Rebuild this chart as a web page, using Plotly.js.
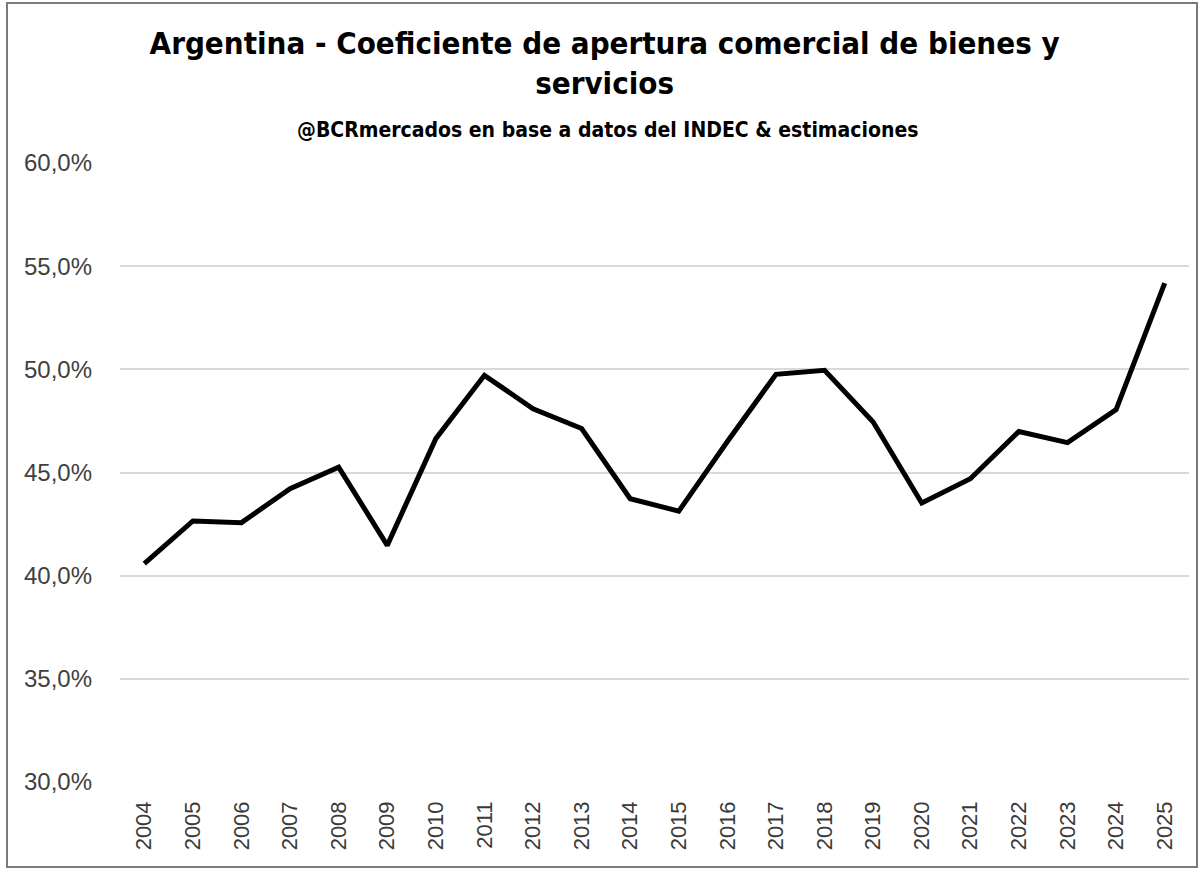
<!DOCTYPE html>
<html>
<head>
<meta charset="utf-8">
<script src="https://cdn.plot.ly/plotly-3.0.1.min.js"></script>
<style>
  html, body { margin: 0; padding: 0; background: #ffffff; }
  #wrap { position: relative; width: 1202px; height: 871px; }
  #chart { position: absolute; left: 0; top: 0; width: 1202px; height: 871px; }
  #frame { position: absolute; left: 6px; top: 2px; width: 1192px; height: 866px;
           border: 2px solid #7a7a7a; box-sizing: border-box; pointer-events: none; }
</style>
</head>
<body>
<div id="wrap">
  <div id="chart"></div>
  <div id="frame"></div>
</div>
<script>
// Data
const years = ["2004","2005","2006","2007","2008","2009","2010","2011","2012","2013","2014",
               "2015","2016","2017","2018","2019","2020","2021","2022","2023","2024","2025"];
const apertura = [0.4058, 0.4265, 0.4257, 0.4422, 0.4526, 0.4147, 0.4664, 0.4971, 0.4809, 0.4713, 0.4373,
                  0.4313, 0.4650, 0.4976, 0.4995, 0.4745, 0.4352, 0.4470, 0.4699, 0.4645, 0.4805, 0.5418];

const titleText = "Argentina - Coeficiente de apertura comercial de bienes y<br>servicios";
const subtitleText = "@BCRmercados en base a datos del INDEC & estimaciones";

const trace = {
  type: "scatter",
  mode: "lines",
  x: years,
  y: apertura,
  line: { color: "#000000", width: 5, shape: "linear" },
  hoverinfo: "x+y"
};

const layout = {
  width: 1202,
  height: 871,
  paper_bgcolor: "#ffffff",
  plot_bgcolor: "#ffffff",
  separators: ",.",
  margin: { l: 120, r: 13, t: 163, b: 89 },
  showlegend: false,
  title: {
    text: titleText,
    xref: "container",
    yref: "container",
    x: 0.503,
    xanchor: "center",
    y: 1 - 54 / 871,
    yanchor: "top",
    font: { family: "DejaVu Sans Condensed, Liberation Sans Narrow, sans-serif", size: 31, color: "#000000", weight: "bold" }
  },
  annotations: [{
    text: subtitleText,
    xref: "paper",
    yref: "paper",
    x: (607 - 120) / 1069,
    y: (782 - 130) / 619,
    xanchor: "center",
    yanchor: "middle",
    showarrow: false,
    font: { family: "DejaVu Sans Condensed, Liberation Sans Narrow, sans-serif", size: 21, color: "#000000", weight: "bold" }
  }],
  xaxis: {
    type: "category",
    range: [-0.5, 21.5],
    showgrid: false,
    zeroline: false,
    showline: false,
    ticks: "",
    tickangle: -90,
    ticklabelstandoff: 14,
    tickfont: { family: "Liberation Sans, Arial, sans-serif", size: 22, color: "#3a3a3a" }
  },
  yaxis: {
    range: [0.30, 0.60],
    dtick: 0.05,
    tick0: 0.30,
    tickformat: ".1%",
    showgrid: true,
    gridcolor: "#d9d9d9",
    gridwidth: 1.5,
    zeroline: false,
    showline: false,
    ticks: "",
    ticklabelstandoff: 27,
    tickfont: { family: "Liberation Sans, Arial, sans-serif", size: 24, color: "#404040" }
  }
};

Plotly.newPlot("chart", [trace], layout, { displayModeBar: false });
</script>
</body>
</html>
